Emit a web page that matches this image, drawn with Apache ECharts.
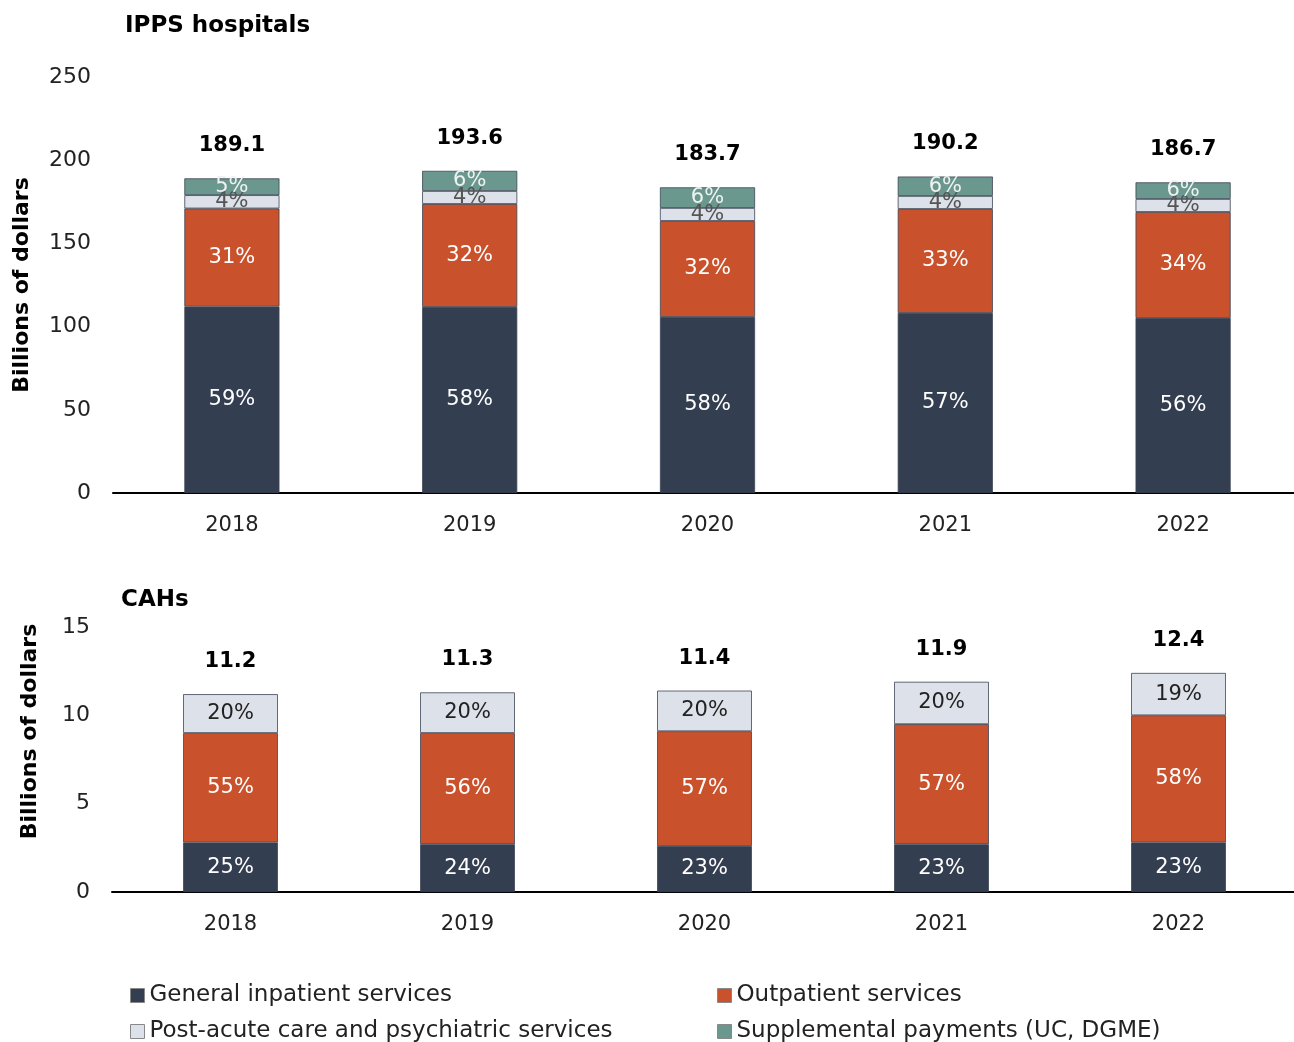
<!DOCTYPE html>
<html>
<head>
<meta charset="utf-8">
<script src="https://cdn.jsdelivr.net/npm/echarts@6/dist/echarts.min.js"></script>
<style>
  html, body { margin: 0; padding: 0; background: #fff; }
  #chart { width: 1294px; height: 1042px; }
</style>
</head>
<body>
<div id="chart"></div>
<script>
// categories
const years = ["2018", "2019", "2020", "2021", "2022"];

// IPPS hospitals, billions of dollars
const ippsInpatient = [112.0, 111.8, 105.8, 108.2, 105.2];
const ippsOutpatient = [59.0, 61.9, 57.7, 62.5, 63.7];
const ippsPostAcute = [8.0, 7.8, 7.8, 7.8, 7.8];
const ippsSupplemental = [10.1, 12.1, 12.4, 11.7, 10.0];
const ippsTotals = ["189.1", "193.6", "183.7", "190.2", "186.7"];
const ippsInpatientPct = ["59%", "58%", "58%", "57%", "56%"];
const ippsOutpatientPct = ["31%", "32%", "32%", "33%", "34%"];
const ippsPostAcutePct = ["4%", "4%", "4%", "4%", "4%"];
const ippsSupplementalPct = ["5%", "6%", "6%", "6%", "6%"];

// CAHs, billions of dollars
const cahInpatient = [2.8, 2.7, 2.6, 2.7, 2.8];
const cahOutpatient = [6.2, 6.3, 6.5, 6.8, 7.2];
const cahPostAcute = [2.2, 2.3, 2.3, 2.4, 2.4];
const cahTotals = ["11.2", "11.3", "11.4", "11.9", "12.4"];
const cahInpatientPct = ["25%", "24%", "23%", "23%", "23%"];
const cahOutpatientPct = ["55%", "56%", "57%", "57%", "58%"];
const cahPostAcutePct = ["20%", "20%", "20%", "20%", "19%"];

const FONT = "DejaVu Sans";
const colors = {
  inpatient: "#343e51",
  outpatient: "#c9522c",
  postAcute: "#dde1e9",
  supplemental: "#6a978e"
};
const names = {
  inpatient: "General inpatient services",
  outpatient: "Outpatient services",
  postAcute: "Post-acute care and psychiatric services",
  supplemental: "Supplemental payments (UC, DGME)"
};

//生成一个堆叠柱
function segment(key, data, pcts, gridIdx, labelColor) {
  return {
    name: names[key],
    type: "bar",
    stack: "s" + gridIdx,
    xAxisIndex: gridIdx,
    yAxisIndex: gridIdx,
    barWidth: "40%",
    data: data,
    itemStyle: { color: colors[key], borderColor: "#3d4555", borderWidth: 0.8 },
    label: {
      show: true,
      position: "inside",
      color: labelColor,
      fontFamily: FONT,
      fontSize: 21,
      formatter: p => pcts[p.dataIndex]
    }
  };
}

//总额标签
function totals(list, gridIdx) {
  return {
    name: "total" + gridIdx,
    type: "bar",
    stack: "s" + gridIdx,
    xAxisIndex: gridIdx,
    yAxisIndex: gridIdx,
    barWidth: "40%",
    data: list.map(() => 0),
    itemStyle: { color: "transparent" },
    label: {
      show: true,
      position: "top",
      distance: 22,
      color: "#000",
      fontFamily: FONT,
      fontWeight: "bold",
      fontSize: 21,
      formatter: p => list[p.dataIndex]
    }
  };
}

//图例,每项单独放置
function legendItem(key, left, top) {
  return {
    data: [names[key]],
    left: left,
    top: top,
    padding: 0,
    itemWidth: 14,
    itemHeight: 14,
    itemGap: 5,
    icon: "rect",
    itemStyle: { borderColor: "#888", borderWidth: 1 },
    textStyle: { fontFamily: FONT, fontSize: 23, color: "#222" }
  };
}

const xAxisCommon = {
  type: "category",
  data: years,
  axisLine: { lineStyle: { color: "#000", width: 2 } },
  axisTick: { show: false },
  axisLabel: { color: "#222", fontFamily: FONT, fontSize: 21, margin: 22 }
};
const yAxisCommon = {
  type: "value",
  splitLine: { show: false },
  axisLine: { show: false },
  axisTick: { show: false },
  axisLabel: { color: "#222", fontFamily: FONT, fontSize: 22, margin: 22 },
  nameLocation: "middle"
};
const yNameStyle = { color: "#000", fontFamily: FONT, fontWeight: "bold", fontSize: 22 };

const chart = echarts.init(document.getElementById("chart"));
chart.setOption({
  animation: false,
  title: [
    { text: "IPPS hospitals", left: 120, top: 10,
      textStyle: { fontFamily: FONT, fontWeight: "bold", fontSize: 23, color: "#000" } },
    { text: "CAHs", left: 116, top: 584,
      textStyle: { fontFamily: FONT, fontWeight: "bold", fontSize: 23, color: "#000" } }
  ],
  legend: [
    legendItem("inpatient", 130, 984),
    legendItem("postAcute", 130, 1020),
    legendItem("outpatient", 717, 984),
    legendItem("supplemental", 717, 1020)
  ],
  grid: [
    { left: 113, width: 1189, top: 77, height: 416, outerBoundsMode: "none", containLabel: false },
    { left: 112, width: 1185, top: 627, height: 265, outerBoundsMode: "none", containLabel: false }
  ],
  xAxis: [
    Object.assign({ gridIndex: 0 }, xAxisCommon),
    Object.assign({ gridIndex: 1 }, xAxisCommon)
  ],
  yAxis: [
    Object.assign({ gridIndex: 0, min: 0, max: 250, interval: 50,
      name: "Billions of dollars", nameGap: 80, nameTextStyle: yNameStyle }, yAxisCommon),
    Object.assign({ gridIndex: 1, min: 0, max: 15, interval: 5,
      name: "Billions of dollars", nameGap: 71,
      nameTextStyle: Object.assign({ padding: [0, 0, 0, 56] }, yNameStyle) }, yAxisCommon)
  ],
  series: [
    segment("inpatient", ippsInpatient, ippsInpatientPct, 0, "#fff"),
    segment("outpatient", ippsOutpatient, ippsOutpatientPct, 0, "#fff"),
    segment("postAcute", ippsPostAcute, ippsPostAcutePct, 0, "#555"),
    segment("supplemental", ippsSupplemental, ippsSupplementalPct, 0, "#eef2f0"),
    totals(ippsTotals, 0),
    segment("inpatient", cahInpatient, cahInpatientPct, 1, "#fff"),
    segment("outpatient", cahOutpatient, cahOutpatientPct, 1, "#fff"),
    segment("postAcute", cahPostAcute, cahPostAcutePct, 1, "#222"),
    totals(cahTotals, 1)
  ]
});
</script>
</body>
</html>
